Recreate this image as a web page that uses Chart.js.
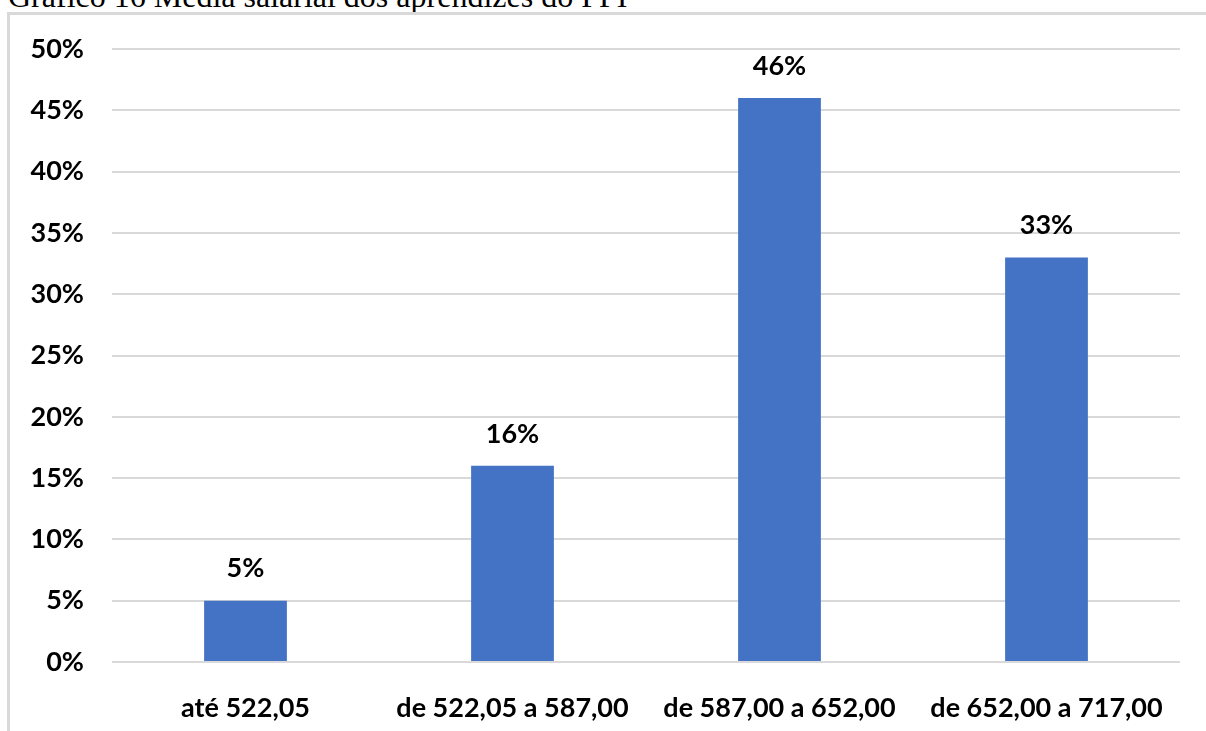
<!DOCTYPE html>
<html lang="pt">
<head>
<meta charset="utf-8">
<title>Média salarial dos aprendizes do PPI</title>
<script src="https://cdn.jsdelivr.net/npm/chart.js@4/dist/chart.umd.min.js"></script>
<style>
  html, body { margin: 0; padding: 0; background: #fff; overflow: hidden; }
  #wrap { position: relative; width: 1206px; height: 731px; }
  #caption {
    position: absolute; left: 8px; top: -20px;
    font-family: "Liberation Serif", "Times New Roman", serif;
    font-size: 32px; line-height: 32px; color: #000; white-space: nowrap;
  }
  #frame {
    position: absolute; left: 7px; top: 12px; width: 1220px; height: 740px;
    border: 3px solid #d9d9d9; box-sizing: border-box;
  }
  #salaryChart { position: absolute; left: 0; top: 0; }
</style>
</head>
<body>
<div id="wrap">
  <div id="caption">Gráfico 16 Média salarial dos aprendizes do PPI</div>
  <div id="frame"></div>
  <canvas id="salaryChart" width="1206" height="731"></canvas>
</div>
<script>
// faixas salariais (R$) e percentual de aprendizes em cada uma
const faixas = ['até 522,05', 'de 522,05 a 587,00', 'de 587,00 a 652,00', 'de 652,00 a 717,00'];
const percentuais = [5, 16, 46, 33];
const ticksY = [0, 5, 10, 15, 20, 25, 30, 35, 40, 45, 50];

const fonte = { family: 'Lato, "Open Sans", sans-serif', size: 27, weight: 'bold' };

// escreve o percentual acima de cada barra
const rotulosBarras = {
  id: 'rotulosBarras',
  afterDatasetsDraw(chart) {
    const ctx = chart.ctx;
    const meta = chart.getDatasetMeta(0);
    ctx.save();
    ctx.font = 'bold 27px Lato, "Open Sans", sans-serif';
    ctx.fillStyle = '#000';
    ctx.textAlign = 'center';
    ctx.textBaseline = 'middle';
    meta.data.forEach(function(bar, i) {
      ctx.fillText(percentuais[i] + '%', bar.x, bar.y - 32);
    });
    ctx.restore();
  }
};

new Chart(document.getElementById('salaryChart'), {
  type: 'bar',
  data: {
    labels: faixas,
    datasets: [{
      data: percentuais,
      backgroundColor: '#4472c4',
      borderWidth: 0,
      categoryPercentage: 1,
      barPercentage: 0.31
    }]
  },
  options: {
    responsive: false,
    animation: false,
    layout: { padding: { left: 0, right: 26, top: 49, bottom: 0 } },
    plugins: {
      legend: { display: false },
      tooltip: { enabled: false }
    },
    scales: {
      x: {
        grid: { display: false },
        border: { display: false },
        ticks: { color: '#000', font: fonte, padding: 22, maxRotation: 0 },
        afterFit(scale) { scale.height = 69; }
      },
      y: {
        min: 0,
        max: 50,
        afterBuildTicks(scale) { scale.ticks = ticksY.map(v => ({ value: v })); },
        grid: { color: '#d9d9d9', lineWidth: 2, drawTicks: false },
        border: { display: false },
        ticks: {
          color: '#000', font: fonte, padding: 28,
          callback: v => v + '%'
        },
        afterFit(scale) { scale.width = 112; }
      }
    }
  },
  plugins: [rotulosBarras]
});
</script>
</body>
</html>
